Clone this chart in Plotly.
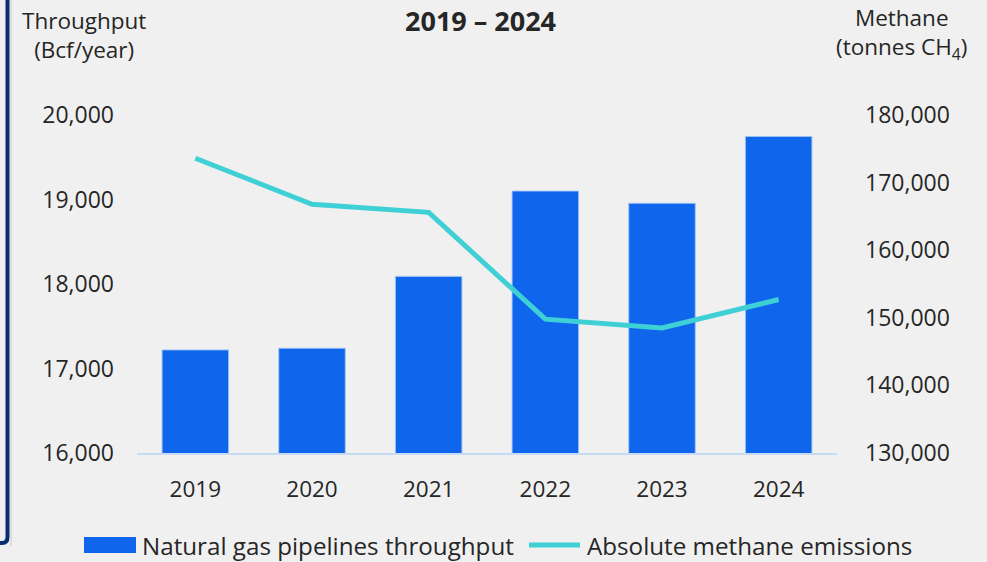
import plotly.graph_objects as go

# Data
years = ["2019", "2020", "2021", "2022", "2023", "2024"]
throughput_bcf = [17220, 17240, 18090, 19100, 18955, 19745]
methane_tonnes = [173600, 166800, 165600, 149800, 148500, 152700]

left_ticks = [16000, 17000, 18000, 19000, 20000]
right_ticks = [130000, 140000, 150000, 160000, 170000, 180000]

BAR_COLOR = "#0F66EC"
LINE_COLOR = "#3FD0D6"
TEXT_COLOR = "#262626"
BG = "#F0F0F0"
NAVY = "#0B2D72"
FONT = "Open Sans"

W, H = 987, 562
ML, MR, MT, MB = 137, 150, 115, 109
PW = W - ML - MR
PH = H - MT - MB


def px(x):
    return (x - ML) / PW


def py(y):
    return (H - MB - y) / PH


fig = go.Figure()

fig.add_trace(go.Bar(
    x=years, y=throughput_bcf, name="Natural gas pipelines throughput",
    marker=dict(color=BAR_COLOR, line=dict(color="rgba(160,195,245,0.9)", width=1)),
    yaxis="y", showlegend=False,
))

fig.add_trace(go.Scatter(
    x=years, y=methane_tonnes, name="Absolute methane emissions",
    mode="lines", line=dict(color=LINE_COLOR, width=5),
    yaxis="y2", showlegend=False,
))

annotations = [
    dict(text="<b>2019 – 2024</b>", x=px(480), y=py(20), xanchor="center", yanchor="middle",
         font=dict(size=27, color=TEXT_COLOR)),
    dict(text="Throughput<br>(Bcf/year)", x=px(83.5), y=py(3), xanchor="center", yanchor="top",
         font=dict(size=22.5, color=TEXT_COLOR)),
    dict(text="Methane<br>(tonnes CH<sub>4</sub>)", x=px(902), y=py(0), xanchor="center", yanchor="top",
         font=dict(size=22.5, color=TEXT_COLOR)),
    dict(text="Natural gas pipelines throughput", x=px(140), y=py(545), xanchor="left", yanchor="middle",
         font=dict(size=24.2, color=TEXT_COLOR)),
    dict(text="Absolute methane emissions", x=px(585), y=py(545), xanchor="left", yanchor="middle",
         font=dict(size=24.2, color=TEXT_COLOR)),
]
for a in annotations:
    a.update(xref="paper", yref="paper", showarrow=False)

shapes = [
    # legend keys
    dict(type="rect", xref="paper", yref="paper", x0=px(84), x1=px(136), y0=py(537), y1=py(553),
         fillcolor=BAR_COLOR, line=dict(width=0)),
    dict(type="line", xref="paper", yref="paper", x0=px(529), x1=px(580), y0=py(545), y1=py(545),
         line=dict(color=LINE_COLOR, width=5)),
    # panel frame edge on the left
    dict(type="path", xref="paper", yref="paper",
         path=(f"M {px(-10)},{py(543)} L {px(2)},{py(543)} "
               f"Q {px(7.5)},{py(543)} {px(7.5)},{py(537)} L {px(7.5)},{py(-10)}"),
         line=dict(color=NAVY, width=4)),
    dict(type="line", xref="paper", yref="paper", x0=px(11), x1=px(11), y0=py(0), y1=py(546),
         line=dict(color="rgba(0,0,0,0.08)", width=2)),
]

fig.update_layout(
    width=W, height=H,
    margin=dict(l=ML, r=MR, t=MT, b=MB),
    paper_bgcolor=BG, plot_bgcolor=BG,
    font=dict(family=FONT, color=TEXT_COLOR, size=23),
    bargap=0.43,
    xaxis=dict(
        type="category", showgrid=False, zeroline=False,
        showline=True, linecolor="#C6DAF5", linewidth=1.5,
        ticks="", ticklabelstandoff=15, tickfont=dict(size=22.5),
    ),
    yaxis=dict(
        range=[16000, 20000], tickvals=left_ticks, tickformat=",",
        showgrid=False, zeroline=False, showline=False, ticks="",
        ticklabelstandoff=22, tickfont=dict(size=23),
    ),
    yaxis2=dict(
        range=[130000, 180000], tickvals=right_ticks, tickformat=",",
        overlaying="y", side="right",
        showgrid=False, zeroline=False, showline=False, ticks="",
        ticklabelstandoff=27, tickfont=dict(size=23),
    ),
    annotations=annotations,
    shapes=shapes,
    showlegend=False,
)

fig.write_html("out.html")
